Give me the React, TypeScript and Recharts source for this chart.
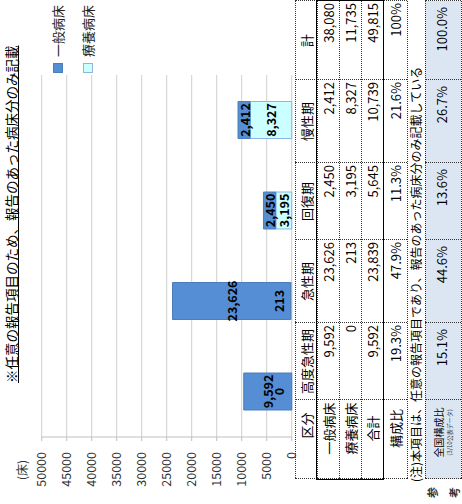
import React from 'react';
import { BarChart, Bar, XAxis, YAxis, CartesianGrid, LabelList } from 'recharts';

// ---- data ----
const categories = ['高度急性期', '急性期', '回復期', '慢性期'];
const generalBeds = [9592, 23626, 2450, 2412];
const longTermBeds = [0, 213, 3195, 8327];
const valueTicks = [0, 5000, 10000, 15000, 20000, 25000, 30000, 35000, 40000, 45000, 50000];
const seriesNames = ['一般病床', '療養病床'];
const titleText = '※任意の報告項目のため、報告のあった病床分のみ記載';
const unitText = '(床)';

const tableHeader = ['区分', '高度急性期', '急性期', '回復期', '慢性期', '計'];
const rowLabels = ['一般病床', '療養病床', '合計', '構成比'];
const generalRow = ['9,592', '23,626', '2,450', '2,412', '38,080'];
const longTermRow = ['0', '213', '3,195', '8,327', '11,735'];
const totalRow = ['9,592', '23,839', '5,645', '10,739', '49,815'];
const shareRow = ['19.3%', '47.9%', '11.3%', '21.6%', '100%'];
const noteText = '(注)本項目は、任意の報告項目であり、報告のあった病床分のみ記載している';
const nationalLabel = '全国構成比';
const nationalSub = '(3/10公表データ)';
const nationalShare = ['15.1%', '44.6%', '13.6%', '26.7%', '100.0%'];
const sideLabel = ['参', '考'];

const chartData = categories.map((c, i) => ({
  name: c,
  general: generalBeds[i],
  longTerm: longTermBeds[i],
}));

// ---- style ----
const FONT = "'Noto Sans CJK JP', 'Noto Sans', sans-serif";
const DARK = '#558ED5';
const DARK_STROKE = '#4A7EBB';
const LIGHT = '#CCFFFF';
const LIGHT_STROKE = '#8EB4E3';
const GRID = '#CFCFCF';

const colEdges = [25, 104, 181, 264, 341, 424, 503];
const rowEdges = [295, 317, 339, 361, 383, 407];
const refTop = 425;
const refBottom = 461;

const fmt = (v: number) => Number(v).toLocaleString('en-US');

const centerLabel = (props: any) => {
  const { x, y, width, height, value } = props;
  const cy = y + height / 2;
  return (
    <text x={x + width / 2} y={cy} textAnchor="middle" dominantBaseline="central"
      fontSize={12.5} fontWeight="bold" fill="#000">{fmt(value)}</text>
  );
};

const baseLabel = (props: any) => {
  const { x, y, width, height, value } = props;
  const h = Math.abs(height || 0);
  const bottom = Math.max(y, y + (height || 0));
  const cy = h < 10 ? bottom - 13 : y + height / 2;
  return (
    <text x={x + width / 2} y={cy} textAnchor="middle" dominantBaseline="central"
      fontSize={12.5} fontWeight="bold" fill="#000">{fmt(value)}</text>
  );
};

const Cell = ({ x0, x1, y0, y1, children, align = 'center', pad = 3, style = {} }: any) => (
  <div style={{
    position: 'absolute', left: x0, top: y0, width: x1 - x0, height: y1 - y0,
    display: 'flex', alignItems: 'center',
    justifyContent: align === 'right' ? 'flex-end' : align === 'left' ? 'flex-start' : 'center',
    paddingRight: align === 'right' ? pad : 0, boxSizing: 'border-box',
    fontSize: 13, whiteSpace: 'nowrap', color: '#000', ...style,
  }}>{children}</div>
);

const HLine = ({ x0, x1, y, style = 'dotted', w = 1, color = '#333' }: any) => (
  <div style={{ position: 'absolute', left: x0, top: y, width: x1 - x0, height: 0, borderTop: `${w}px ${style} ${color}` }} />
);
const VLine = ({ x, y0, y1, style = 'dotted', w = 1, color = '#333' }: any) => (
  <div style={{ position: 'absolute', left: x, top: y0, width: 0, height: y1 - y0, borderLeft: `${w}px ${style} ${color}` }} />
);

export default function App() {
  const bodyRows = [generalRow, longTermRow, totalRow, shareRow];
  const legendColors = [[DARK, DARK_STROKE], [LIGHT, LIGHT_STROKE]];
  return (
    <div style={{ position: 'absolute', left: 0, top: 0, width: 462, height: 504, overflow: 'hidden', background: '#fff' }}>
      <div style={{
        position: 'absolute', left: 0, top: 0, width: 504, height: 462,
        transformOrigin: '0 0', transform: 'translateY(504px) rotate(-90deg)',
        fontFamily: FONT, color: '#000',
      }}>
        <div style={{ position: 'absolute', left: 0, top: 0 }}>
          <BarChart width={504} height={300} data={chartData}
            margin={{ top: 41.7, right: 75, bottom: 8.3, left: 17 }} barSize={37}>
            <CartesianGrid vertical={false} stroke={GRID} strokeWidth={1} />
            <XAxis dataKey="name" height={0} tick={false} tickLine={false}
              axisLine={{ stroke: '#BFBFBF' }} />
            <XAxis xAxisId="bounds" type="number" domain={[0, 4]} ticks={[0, 1, 2, 3, 4]}
              height={0} tick={false} tickSize={4} tickLine={{ stroke: '#BFBFBF' }} axisLine={false} />
            <YAxis type="number" domain={[0, 50000]} ticks={valueTicks} interval={0} width={50}
              tickSize={4} tickMargin={11} axisLine={{ stroke: '#BFBFBF' }} tickLine={{ stroke: '#BFBFBF' }}
              tick={{ fontSize: 12.5, fill: '#333' }} />
            <Bar dataKey="longTerm" stackId="s" fill={LIGHT} stroke={LIGHT_STROKE} minPointSize={1} isAnimationActive={false}>
              <LabelList dataKey="longTerm" content={baseLabel} />
            </Bar>
            <Bar dataKey="general" stackId="s" fill={DARK} stroke={DARK_STROKE} isAnimationActive={false}>
              <LabelList dataKey="general" content={centerLabel} />
            </Bar>
          </BarChart>
        </div>

        {/* title */}
        <div style={{ position: 'absolute', left: 121, top: 3, fontSize: 13.5, lineHeight: '17px', textDecoration: 'underline', whiteSpace: 'nowrap' }}>{titleText}</div>
        {/* unit */}
        <div style={{ position: 'absolute', left: 24, top: 14, fontSize: 12, lineHeight: '16px', color: '#333', whiteSpace: 'nowrap' }}>{unitText}</div>

        {/* legend */}
        {seriesNames.map((n, i) => (
          <div key={n} style={{ position: 'absolute', left: 431, top: 50 + i * 30, height: 16, display: 'flex', alignItems: 'center' }}>
            <div style={{ width: 8, height: 8, background: legendColors[i][0], border: `1px solid ${legendColors[i][1]}`, marginRight: 6 }} />
            <span style={{ fontSize: 13, lineHeight: '16px', color: '#222', whiteSpace: 'nowrap' }}>{n}</span>
          </div>
        ))}

        {/* table */}
        {tableHeader.map((h, c) => (
          <Cell key={'h' + c} x0={colEdges[c]} x1={colEdges[c + 1]} y0={rowEdges[0]} y1={rowEdges[1]}
            style={c === 0 ? { paddingLeft: 28 } : {}}>{h}</Cell>
        ))}
        {rowLabels.map((l, r) => (
          <Cell key={'l' + r} x0={colEdges[0]} x1={colEdges[1]} y0={rowEdges[r + 1]} y1={rowEdges[r + 2]}
            style={{ paddingLeft: 22 }}>{l}</Cell>
        ))}
        {bodyRows.map((row, r) => row.map((v, c) => (
          <Cell key={'v' + r + '-' + c} x0={colEdges[c + 1]} x1={colEdges[c + 2]} y0={rowEdges[r + 1]} y1={rowEdges[r + 2]}
            align="right" pad={2}>{v}</Cell>
        )))}
        {rowEdges.map((y, i) => <HLine key={'hl' + i} x0={colEdges[0]} x1={colEdges[6]} y={y} />)}
        {colEdges.map((x, i) => <VLine key={'vl' + i} x={x} y0={rowEdges[0]} y1={rowEdges[5]} />)}
        <div style={{ position: 'absolute', left: colEdges[0] - 1, top: rowEdges[1] - 1, width: colEdges[6] - colEdges[0] + 2, height: rowEdges[4] - rowEdges[1] + 2, border: '1.5px solid #000', boxSizing: 'border-box' }} />

        {/* note */}
        <div style={{ position: 'absolute', left: 22, top: 408, fontSize: 12, lineHeight: '16px', whiteSpace: 'nowrap' }}>{noteText}</div>

        {/* reference */}
        <div style={{ position: 'absolute', left: colEdges[0], top: refTop, width: colEdges[6] - colEdges[0], height: refBottom - refTop, background: '#DCE6F2' }} />
        <HLine x0={colEdges[0]} x1={colEdges[6]} y={refTop} />
        <HLine x0={colEdges[0]} x1={colEdges[6]} y={refBottom} />
        {colEdges.map((x, i) => <VLine key={'rv' + i} x={x} y0={refTop} y1={refBottom} />)}
        <div style={{ position: 'absolute', left: colEdges[0], top: refTop + 1, width: colEdges[1] - colEdges[0], height: refBottom - refTop - 2, display: 'flex', flexDirection: 'column', alignItems: 'center', justifyContent: 'center', paddingLeft: 14, boxSizing: 'border-box' }}>
          <div style={{ fontSize: 10, lineHeight: '13px', whiteSpace: 'nowrap' }}>{nationalLabel}</div>
          <div style={{ fontSize: 6, lineHeight: '9px', whiteSpace: 'nowrap', color: '#333' }}>{nationalSub}</div>
        </div>
        {nationalShare.map((v, c) => (
          <Cell key={'n' + c} x0={colEdges[c + 1]} x1={colEdges[c + 2]} y0={refTop} y1={refBottom - 4} align="right" pad={6}>{v}</Cell>
        ))}
        {sideLabel.map((s, i) => (
          <div key={s} style={{ position: 'absolute', left: 6, top: 426 + i * 22, fontSize: 11, fontWeight: 'bold', lineHeight: '12px', color: '#333' }}>{s}</div>
        ))}
      </div>
    </div>
  );
}
